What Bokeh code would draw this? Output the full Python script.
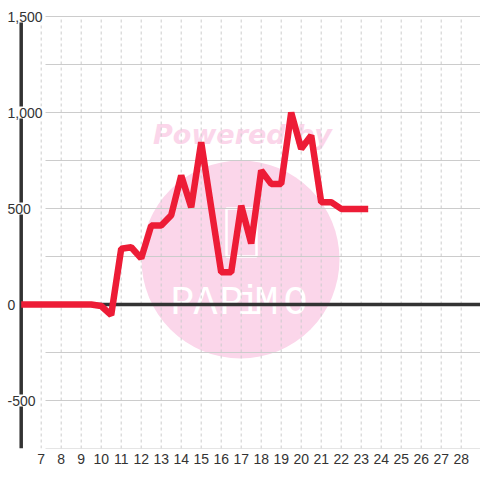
from bokeh.plotting import figure
from bokeh.models import Range1d, FixedTicker
from bokeh.core.properties import value
from bokeh.embed import file_html
from bokeh.resources import INLINE

# ---- data ----
x_vals = [6, 6.5, 7, 7.5, 8, 8.5, 9, 9.5, 10, 10.5, 11, 11.5, 12, 12.5, 13, 13.5,
          14, 14.5, 15, 15.5, 16, 16.5, 17, 17.5, 18, 18.5, 19, 19.5, 20, 20.5,
          21, 21.5, 22, 22.5, 23, 23.35]
y_vals = [0, 0, 0, 0, 0, 0, 0, 0, -8, -55, 290, 298, 240, 411, 411, 465,
          672, 507, 845, 505, 168, 168, 515, 318, 698, 628, 628, 1000, 811, 880,
          533, 533, 498, 498, 498, 498]

x_ticks = list(range(7, 29))
y_grid_vals = [-750, -500, -250, 0, 250, 500, 750, 1000, 1250, 1500]
y_ticks = [-500, 0, 500, 1000, 1500]
y_tick_labels = ["-500", "0", "500", "1,000", "1,500"]

wm_letters = ["P", "A", "P", "i", "M", "O"]

# ---- layout helpers (canvas pixel -> data) ----
X0_PX, X_SCALE = 20.7, 20.0      # x=6 at px 20.7, 20 px per unit
Y0_PX, Y_SCALE = 304.0, 0.192    # y=0 at px 304, 0.192 px per unit
def px_x(px):
    return 6 + (px - X0_PX) / X_SCALE
def px_y(py):
    return (Y0_PX - py) / Y_SCALE

FONT = "Liberation Sans"
TEXT_COL = "#333333"
GRID_COL = "#cccccc"
RED = "#ed1c36"
PINK = "#fbd6ea"

W, H, BOTTOM = 480, 480, 448
p = figure(width=W, height=H, output_backend="svg", toolbar_location=None,
           x_range=Range1d(px_x(0), px_x(W)), y_range=Range1d(px_y(BOTTOM), px_y(0)),
           y_axis_location=None, min_border_left=0, min_border_right=0,
           min_border_top=0, min_border_bottom=H - BOTTOM)
p.outline_line_color = None
p.background_fill_color = "white"
p.border_fill_color = "white"
p.xgrid.grid_line_color = None
p.ygrid.grid_line_color = None

# x axis
ax = p.xaxis[0]
ax.ticker = FixedTicker(ticks=x_ticks)
ax.axis_line_color = None
ax.major_tick_line_color = None
ax.minor_tick_line_color = None
ax.major_tick_out = 0
ax.major_tick_in = 0
ax.major_label_standoff = 5
ax.major_label_text_font = FONT
ax.major_label_text_font_size = "14px"
ax.major_label_text_color = TEXT_COL

# watermark
p.scatter(x=[px_x(240)], y=[px_y(259)], size=198, marker="circle",
          fill_color=PINK, line_color=None)
p.text(x=[px_x(242)], y=[px_y(134)], text=["Powered by"], text_align="center",
       text_baseline="middle", text_font=value("DejaVu Sans"), text_font_size="27px",
       text_font_style="bold italic", text_color=PINK)
p.rect(x=[px_x(241)], y=[px_y(232)], width=30, height=48, width_units="screen",
       height_units="screen", fill_color=None, line_color="white", line_width=2.5)
letter_px = [182, 205, 231, 249, 266, 295]
p.text(x=[px_x(v) for v in letter_px], y=[px_y(303)] * len(wm_letters), text=wm_letters,
       text_align="center", text_baseline="alphabetic",
       text_font=value("Liberation Mono"), text_font_size="40px", text_color="white")

# grids
p.segment(x0=[px_x(45)] * len(y_grid_vals), y0=y_grid_vals,
          x1=[px_x(W)] * len(y_grid_vals), y1=y_grid_vals,
          line_color=GRID_COL, line_width=1)
p.segment(x0=x_ticks, y0=[y_grid_vals[0]] * len(x_ticks),
          x1=x_ticks, y1=[y_grid_vals[-1]] * len(x_ticks),
          line_color=GRID_COL, line_width=1, line_dash="3 3")

# axis lines
p.segment(x0=[6], y0=[y_grid_vals[0]], x1=[6], y1=[y_grid_vals[-1]],
          line_color=TEXT_COL, line_width=3.5)
p.segment(x0=[6], y0=[0], x1=[px_x(W)], y1=[0],
          line_color=TEXT_COL, line_width=3.5)

# y labels
p.text(x=[px_x(6)] * len(y_ticks), y=y_ticks, text=y_tick_labels,
       text_align="left", text_baseline="middle", text_font=value(FONT),
       text_font_size="14px", text_color=TEXT_COL,
       background_fill_color="white", padding=1)

# data line
p.line(x=x_vals, y=y_vals, line_color=RED, line_width=6.5,
       line_join="bevel", line_cap="butt")

open("out.html", "w").write(file_html(p, INLINE))
